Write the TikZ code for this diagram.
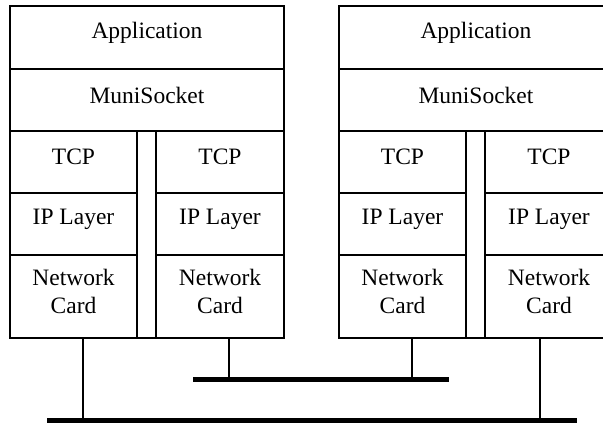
\documentclass[tikz,border=0pt]{standalone}
\usepackage{fontspec}
\setmainfont{Liberation Serif}
\usetikzlibrary{calc}
\begin{document}
\begin{tikzpicture}[x=1pt,y=-1pt,
  cell/.style={draw, line width=1.3pt, inner sep=0pt},
  txt/.style={inner sep=0pt, align=center, yshift=5pt,
    font=\fontsize{23.5}{28.5}\selectfont},
  drop/.style={line width=1.2pt},
  bus/.style={line width=5.5pt}]
\useasboundingbox (0,0) rectangle (603,423);
\clip (0,0) rectangle (603,423);
% stack A
\node[cell, minimum width=274pt, minimum height=63pt] (appA) at (147,37.5) {};
\node[cell, minimum width=274pt, minimum height=62pt] (muniA) at (147,100) {};
\node[cell, minimum width=127pt, minimum height=62pt] (tcpAL) at (73.5,162) {};
\node[cell, minimum width=127pt, minimum height=62pt] (ipAL) at (73.5,224) {};
\node[cell, minimum width=127pt, minimum height=83pt] (netAL) at (73.5,296.5) {};
\node[cell, minimum width=19pt, minimum height=207pt] (gapA) at (146.5,234.5) {};
\node[cell, minimum width=128pt, minimum height=62pt] (tcpAR) at (220,162) {};
\node[cell, minimum width=128pt, minimum height=62pt] (ipAR) at (220,224) {};
\node[cell, minimum width=128pt, minimum height=83pt] (netAR) at (220,296.5) {};
% stack B
\node[cell, minimum width=274pt, minimum height=63pt] (appB) at (476,37.5) {};
\node[cell, minimum width=274pt, minimum height=62pt] (muniB) at (476,100) {};
\node[cell, minimum width=127pt, minimum height=62pt] (tcpBL) at (402.5,162) {};
\node[cell, minimum width=127pt, minimum height=62pt] (ipBL) at (402.5,224) {};
\node[cell, minimum width=127pt, minimum height=83pt] (netBL) at (402.5,296.5) {};
\node[cell, minimum width=19pt, minimum height=207pt] (gapB) at (475.5,234.5) {};
\node[cell, minimum width=128pt, minimum height=62pt] (tcpBR) at (549,162) {};
\node[cell, minimum width=128pt, minimum height=62pt] (ipBR) at (549,224) {};
\node[cell, minimum width=128pt, minimum height=83pt] (netBR) at (549,296.5) {};
% texts
\node[txt] (tappA) at (appA.center) {Application};
\node[txt] (tmuniA) at (muniA.center) {MuniSocket};
\node[txt] (ttcpAL) at (tcpAL.center) {TCP};
\node[txt] (tipAL) at (ipAL.center) {IP Layer};
\node[txt] (tnetAL) at (netAL.center) {Network\\Card};
\node[txt] (ttcpAR) at (tcpAR.center) {TCP};
\node[txt] (tipAR) at (ipAR.center) {IP Layer};
\node[txt] (tnetAR) at (netAR.center) {Network\\Card};
\node[txt] (tappB) at (appB.center) {Application};
\node[txt] (tmuniB) at (muniB.center) {MuniSocket};
\node[txt] (ttcpBL) at (tcpBL.center) {TCP};
\node[txt] (tipBL) at (ipBL.center) {IP Layer};
\node[txt] (tnetBL) at (netBL.center) {Network\\Card};
\node[txt] (ttcpBR) at (tcpBR.center) {TCP};
\node[txt] (tipBR) at (ipBR.center) {IP Layer};
\node[txt] (tnetBR) at (netBR.center) {Network\\Card};
% buses
\coordinate (upL) at (193,379.5);
\coordinate (upR) at (449,379.5);
\coordinate (lowL) at (47,421);
\coordinate (lowR) at (577,421);
\draw[bus] (upL) -- (upR);
\draw[bus] (lowL) -- (lowR);
% drops
\draw[drop] ([xshift=9.5pt]netAL.south) -- ([xshift=9.5pt]netAL.south |- lowL);
\draw[drop] ([xshift=9pt]netAR.south) -- ([xshift=9pt]netAR.south |- upL);
\draw[drop] ([xshift=9.5pt]netBL.south) -- ([xshift=9.5pt]netBL.south |- upL);
\draw[drop] ([xshift=-9pt]netBR.south) -- ([xshift=-9pt]netBR.south |- lowL);
\end{tikzpicture}
\end{document}
